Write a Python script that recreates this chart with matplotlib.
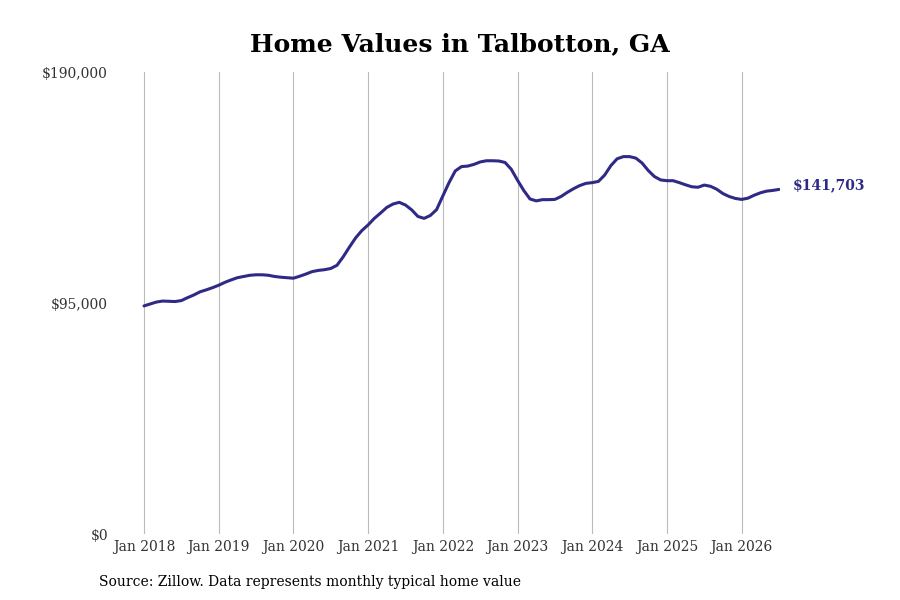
import numpy as np
import matplotlib
matplotlib.use("Agg")
import matplotlib.pyplot as plt
from matplotlib.ticker import FuncFormatter

# monthly typical home value, Jan 2018 .. Jul 2026 (thousands of $)
values_k = [
    93.8, 94.6, 95.4, 95.8, 95.7, 95.6, 96.0, 97.2, 98.3, 99.6, 100.4, 101.3,
    102.3, 103.5, 104.5, 105.4, 105.9, 106.4, 106.6, 106.6, 106.4, 105.9, 105.6, 105.4,
    105.2, 106.0, 106.9, 107.9, 108.4, 108.7, 109.2, 110.5, 114.0, 118.0, 121.8, 124.8,
    127.1, 129.8, 132.0, 134.3, 135.7, 136.4, 135.3, 133.3, 130.6, 129.8, 131.0, 133.4,
    139.0, 144.5, 149.3, 151.1, 151.3, 152.0, 153.0, 153.5, 153.5, 153.4, 152.8, 150.0,
    145.5, 141.3, 137.8, 137.0, 137.5, 137.5, 137.6, 138.8, 140.5, 142.0, 143.3, 144.2,
    144.5, 145.0, 147.6, 151.5, 154.3, 155.2, 155.2, 154.6, 152.6, 149.5, 147.0, 145.6,
    145.3, 145.3, 144.5, 143.6, 142.8, 142.6, 143.5, 143.0, 141.8, 140.0, 138.8, 138.0,
    137.6, 138.1, 139.3, 140.3, 141.0, 141.3, 141.703,
]
start_year = 2018
tick_years = list(range(2018, 2027))
tick_labels = [f"Jan {y}" for y in tick_years]
y_ticks = [0, 95000, 190000]
last_label = "$141,703"
title = "Home Values in Talbotton, GA"
source = "Source: Zillow. Data represents monthly typical home value"

line_color = "#2e2a86"

values = np.array(values_k) * 1000
x = start_year + np.arange(len(values)) / 12.0

plt.rcParams['font.family'] = ['DejaVu Serif']

fig = plt.figure(figsize=(9, 6), dpi=100)
ax = fig.add_axes([115 / 900, 1 - 534 / 600, (780 - 115) / 900, (534 - 72) / 600])

ax.plot(x, values, color=line_color, lw=2.2, solid_capstyle="round")

ax.set_ylim(0, 190000)
ax.set_xlim(start_year - 29 / 74.7, start_year + 636 / 74.7)
ax.set_yticks(y_ticks)
ax.yaxis.set_major_formatter(FuncFormatter(lambda v, p: f"${v:,.0f}"))
ax.set_xticks(tick_years)
ax.set_xticklabels(tick_labels)
ax.tick_params(axis="both", length=0, labelsize=10, labelcolor="#333333")
ax.tick_params(axis="x", pad=4)
ax.tick_params(axis="y", pad=5)
for lbl in ax.get_yticklabels():
    lbl.set_verticalalignment("center_baseline")
ax.grid(axis="x", color="#bbbbbb", lw=0.8)
ax.grid(axis="y", visible=False)
for s in ax.spines.values():
    s.set_visible(False)

ax.annotate(last_label, xy=(x[-1], values[-1]), xytext=(10, 3),
            textcoords="offset points", color=line_color, fontsize=10,
            fontweight="bold", va="center", ha="left", annotation_clip=False)

fig.text(460 / 900, 1 - 44 / 600, title, ha="center", va="center",
         fontsize=18, fontweight="bold", color="black")
fig.text(99 / 900, 1 - 582 / 600, source, ha="left", va="center",
         fontsize=10, color="black")

fig.savefig("out.png", dpi=100, facecolor="white")
